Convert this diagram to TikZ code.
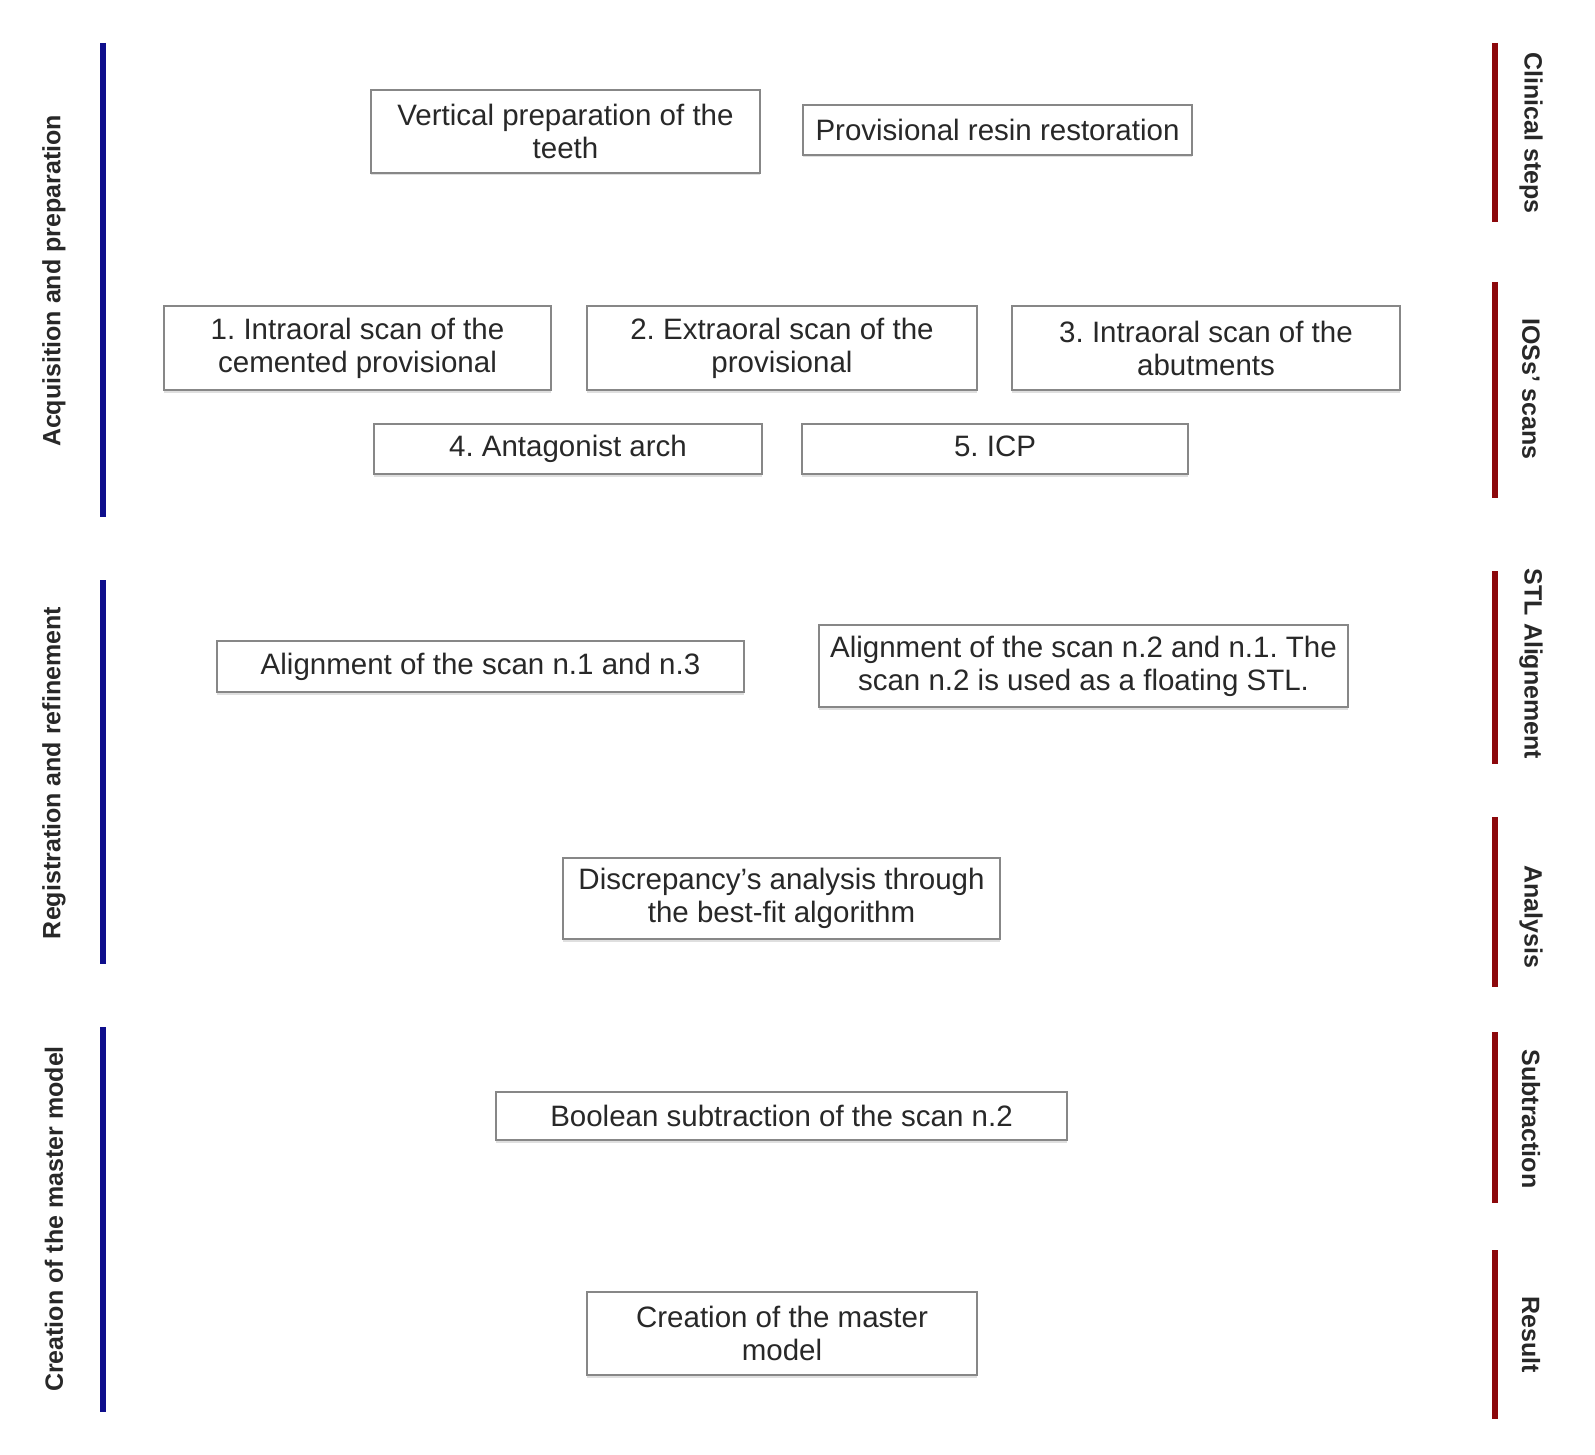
\documentclass[tikz,border=0pt]{standalone}
\usepackage{fontspec}
\setmainfont{Liberation Sans}
\usetikzlibrary{positioning,shadows}
\frenchspacing

\definecolor{phaseblue}{RGB}{14,14,140}
\definecolor{stepred}{RGB}{140,8,12}
\definecolor{boxgray}{RGB}{135,135,135}
\definecolor{inkgray}{RGB}{40,40,40}

\begin{document}
\begin{tikzpicture}[x=1pt,y=-1pt,
    stepbox/.style={draw=boxgray,line width=2pt,fill=white,align=center,inner sep=0pt,
      text=inkgray,font=\fontsize{29.5}{33}\selectfont,
      drop shadow={shadow xshift=0pt,shadow yshift=-2.5pt,opacity=0.25}},
    phase/.style={rotate=90,text=inkgray,font=\fontsize{25}{28}\selectfont\bfseries},
    kind/.style={rotate=-90,text=inkgray,font=\fontsize{25}{28}\selectfont\bfseries},
    phasebar/.style={phaseblue,line width=6pt},
    kindbar/.style={stepred,line width=6pt}]
  \useasboundingbox (0,0) rectangle (1595,1455);
  \begin{scope}[every node/.style={stepbox}]
    % clinical steps
    \node (VP)[minimum width=389pt,minimum height=83pt] at (565.5,131.5) {Vertical preparation of the\\teeth};
    \node (PR)[minimum width=389pt,minimum height=50pt] at (997.5,130) {Provisional resin restoration};
    % scans
    \node (S1)[minimum width=387pt,minimum height=84pt] at (357.5,348) {1. Intraoral scan of the\\cemented provisional};
    \node (S2)[minimum width=390pt,minimum height=84pt] at (782,348) {2. Extraoral scan of the\\provisional};
    \node (S3)[minimum width=388pt,minimum height=84pt] at (1206,348) {3. Intraoral scan of the\\abutments};
    \node (S4)[minimum width=388pt,minimum height=50pt] at (568,449) {4. Antagonist arch};
    \node (S5)[minimum width=386pt,minimum height=50pt] at (995,449) {\vphantom{g}5. ICP};
    % alignment and analysis
    \node (AL1)[minimum width=527pt,minimum height=51pt] at (480.5,666.5) {Alignment of the scan n.1 and n.3};
    \node (AL2)[minimum width=529pt,minimum height=82pt] at (1083.5,666) {Alignment of the scan n.2 and n.1. The\\scan n.2 is used as a floating STL.};
    \node (DA)[minimum width=437pt,minimum height=81pt] at (781.5,898.5) {Discrepancy's analysis through\\the best-fit algorithm};
    % master model
    \node (BS)[minimum width=571pt,minimum height=48pt] at (781.5,1116) {Boolean subtraction of the scan n.2};
    \node (CM)[minimum width=390pt,minimum height=83pt] at (782,1333.5) {Creation of the master\\model};
  \end{scope}
  % phases on the left
  \draw[phasebar] (103,43) -- (103,517);
  \draw[phasebar] (103,580) -- (103,964);
  \draw[phasebar] (103,1027) -- (103,1412);
  \node (P1)[phase] at (54,281) {Acquisition and preparation};
  \node (P2)[phase] at (54,773) {Registration and refinement};
  \node (P3)[phase] at (54,1219) {Creation of the master model};
  % kinds of step on the right
  \draw[kindbar] (1495,43) -- (1495,222);
  \draw[kindbar] (1495,282) -- (1495,498);
  \draw[kindbar] (1495,571) -- (1495,764);
  \draw[kindbar] (1495,817) -- (1495,987);
  \draw[kindbar] (1495,1032) -- (1495,1203);
  \draw[kindbar] (1495,1250) -- (1495,1419);
  \node (K1)[kind] at (1531,133) {Clinical steps};
  \node (K2)[kind] at (1531,389) {IOSs' scans};
  \node (K3)[kind] at (1531,664) {STL Alignement};
  \node (K4)[kind] at (1531,917) {Analysis};
  \node (K5)[kind] at (1531,1119) {Subtraction};
  \node (K6)[kind] at (1531,1335) {Result};
\end{tikzpicture}
\end{document}
